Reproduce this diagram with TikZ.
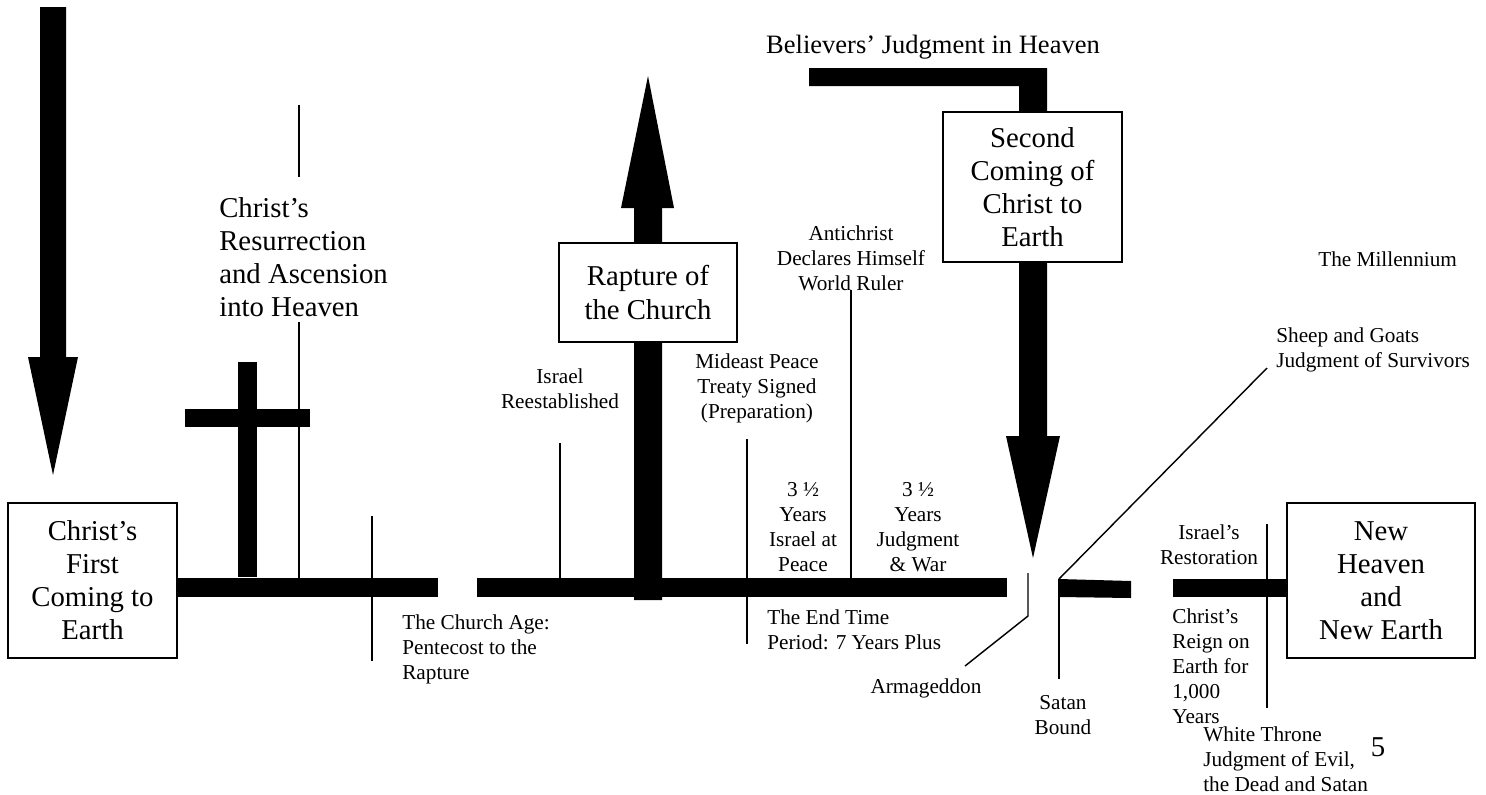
\documentclass[tikz,border=0pt]{standalone}
\usepackage{fontspec}
\setmainfont{Liberation Serif}
\usetikzlibrary{positioning}

\tikzset{
  bigtxt/.style={font=\fontsize{18}{20.7}\selectfont, inner sep=0pt, align=center},
  smalltxt/.style={font=\fontsize{13.3}{15.6}\selectfont, inner sep=0pt, align=center},
  eventbox/.style={draw, fill=white, line width=1pt},
  thinline/.style={line width=0.9pt},
}

\begin{document}
\begin{tikzpicture}[x=0.022cm, y=-0.022cm]
                \useasboundingbox (0,0) rectangle (1486,794);

                % big arrows
                \fill (40,7) -- (66,7) -- (66,357) -- (78,357) -- (53,475)
                      -- (28,357) -- (40,357) -- cycle;
                \fill (634,600) -- (634,208) -- (621,208) -- (648,76)
                      -- (674,208) -- (662,208) -- (662,600) -- cycle;
                \fill (809,68) -- (1047,68) -- (1047,436) -- (1060,436)
                      -- (1033,558) -- (1006,436) -- (1019,436) -- (1019,86)
                      -- (809,86) -- cycle;

                % cross
                \fill (238,362) rectangle (257,577);
                \fill (185,409) rectangle (310,427);

                % time line
                \fill (177,578) rectangle (438,597);
                \fill (477,578) rectangle (1007,597);
                \fill (1059,579) -- (1131,581) -- (1131,598) -- (1059,597) -- cycle;
                \fill (1173,579) rectangle (1287,597);

                % ticks
                \draw[thinline] (299,105) -- (299,177);
                \draw[thinline] (299,322) -- (299,578);
                \draw[thinline] (372,516) -- (372,661);
                \draw[thinline] (560,443) -- (560,578);
                \draw[thinline] (747,439) -- (747,644);
                \draw[thinline] (851,290) -- (851,578);
                \draw[thinline] (965,666) -- (1028,616) -- (1028,573);
                \draw[thinline] (1059,579) -- (1059,679);
                \draw[thinline] (1059,579) -- (1267,368);
                \draw[thinline] (1267,524) -- (1267,708);

                % boxes
                \draw[eventbox] (8,503) rectangle (177,658)
                node[midway, bigtxt] (first) {Christ’s\\First\\Coming to\\Earth};

                \draw[eventbox] (559,243) rectangle (737,342)
                node[midway, bigtxt] (rapture) {Rapture of\\the Church};

                \draw[eventbox] (943,112) rectangle (1122,262)
                node[midway, bigtxt] (second) {Second\\Coming of\\Christ to\\Earth};

                \draw[eventbox] (1287,503) rectangle (1475,658)
                node[midway, bigtxt] (newearth) {New\\Heaven\\and\\New Earth};

                % labels
                \node[bigtxt, align=left, anchor=west] (resurrect) at (219,257)
                {Christ’s\\Resurrection\\and Ascension\\into Heaven};
                \node[bigtxt, font=\fontsize{16.6}{19}\selectfont] (believers) at (933,47)
                {Believers’ Judgment in Heaven};

                \node[smalltxt, align=left, anchor=west] (churchage) at (402,649)
                {The Church Age:\\Pentecost to the\\Rapture};
                \node[smalltxt] (israel) at (560,389) {Israel\\Reestablished};
                \node[smalltxt] (treaty) at (757,388)
                {Mideast Peace\\Treaty Signed\\(Preparation)};
                \node[smalltxt] (antichrist) at (851,258)
                {Antichrist\\Declares Himself\\World Ruler};
                \node[smalltxt] (peace) at (803,527) {3 ½\\Years\\Israel at\\Peace};
                \node[smalltxt] (war) at (918,527) {3 ½\\Years\\Judgment\\\& War};
                \node[smalltxt, align=left, anchor=west] (endtime) at (767,630)
                {The End Time\\Period: 7 Years Plus};
                \node[smalltxt] (armageddon) at (926,688) {Armageddon};
                \node[smalltxt] (satan) at (1063,715) {Satan\\Bound};
                \node[smalltxt, align=left, anchor=west] (sheep) at (1276,350)
                {Sheep and Goats\\Judgment of Survivors};
                \node[smalltxt, anchor=west] (millennium) at (1318,259) {The Millennium};
                \node[smalltxt] (restoration) at (1209,545) {Israel’s\\Restoration};
                \node[smalltxt, align=left, anchor=west] (reign) at (1172,666)
                {Christ’s\\Reign on\\Earth for\\1,000\\Years};
                \node[smalltxt, align=left, anchor=west] (throne) at (1203,759)
                {White Throne\\Judgment of Evil,\\the Dead and Satan};
                \node[bigtxt] (pagenum) at (1378,747) {5};
            \end{tikzpicture}
\end{document}
